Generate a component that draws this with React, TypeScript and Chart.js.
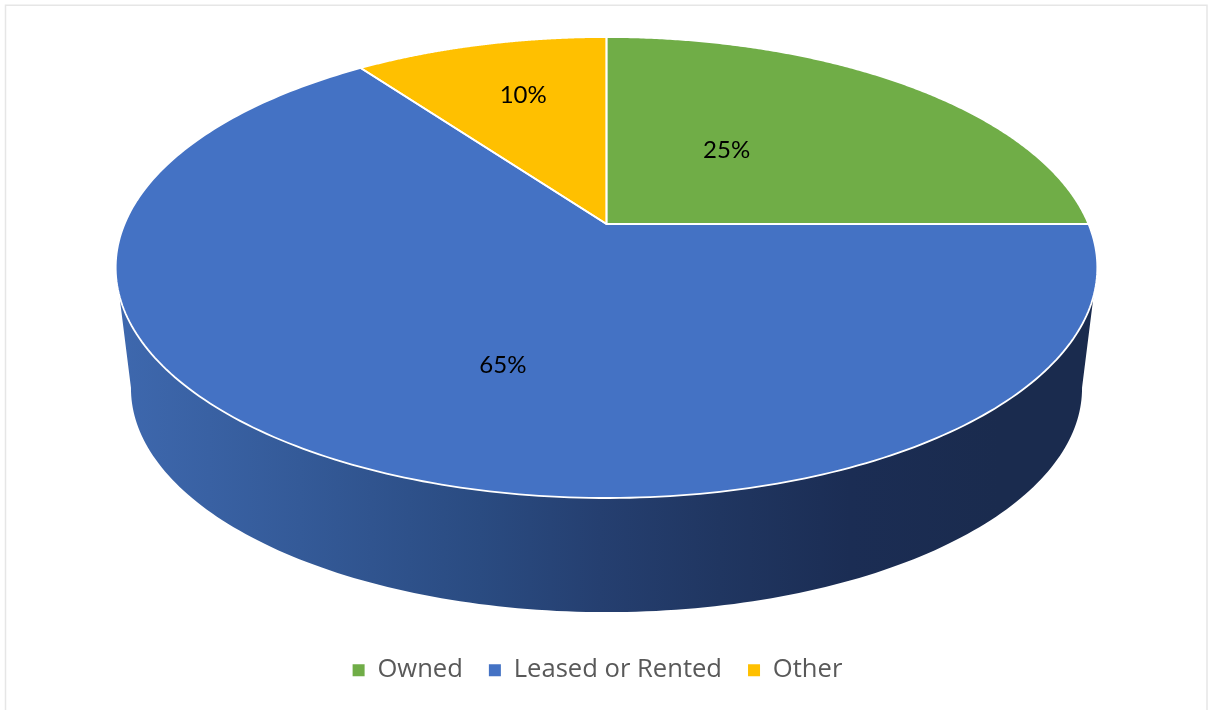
import React, { useEffect, useRef } from "react";
import { Chart, registerables } from "chart.js";

Chart.register(...registerables);

const categories = ["Owned", "Leased or Rented", "Other"];
const shares = [25, 65, 10];
const sliceColors = ["#70AD47", "#4472C4", "#FFC000"];
// where each percentage sits on the unit disc of the pie
const labelAnchors = [
  [0.266, -0.355],
  [-0.192, 0.566],
  [-0.194, -0.652],
];

// Perspective projection of the unit disc onto the page
const TOP = { cx: 606.5, cy: 224, a: 482, b: 222.3, k: -0.1887 };
const BOTTOM = { cx: 606.5, cy: 346, a: 467, b: 215.9, k: -0.1887 };
const project = (p: typeof TOP, ux: number, uy: number): [number, number] => {
  const d = 1 + p.k * uy;
  return [p.cx + (p.a * ux) / d, p.cy + (p.b * uy) / d];
};
const rim = (p: typeof TOP, from: number, to: number, n = 160) => {
  const pts: [number, number][] = [];
  for (let i = 0; i <= n; i++) {
    const t = from + ((to - from) * i) / n;
    pts.push(project(p, Math.cos(t), Math.sin(t)));
  }
  return pts;
};

const sideStops: [number, string][] = [
  [118, "#3E68AE"],
  [300, "#345A98"],
  [480, "#2A4B81"],
  [600, "#253F70"],
  [720, "#203661"],
  [850, "#1B2D54"],
  [1000, "#1A2B4E"],
  [1097, "#1A2B4E"],
];

const framePlugin = {
  id: "frame",
  beforeDraw(chart: any) {
    const { ctx } = chart;
    ctx.save();
    ctx.strokeStyle = "#E6E6E6";
    ctx.lineWidth = 1.5;
    ctx.strokeRect(5.5, 5.25, 1201.5, 730);
    ctx.restore();
  },
};

const pie3dPlugin = {
  id: "pie3d",
  beforeDatasetDraw(chart: any, args: any) {
    const { ctx } = chart;
    const meta = args.meta;
    const ds = chart.data.datasets[args.index];
    ctx.save();

    // side wall: only the front part of the rim can be seen
    const topLeft = Math.asin(0.305);
    const botLeft = Math.asin(0.187);
    const grad = ctx.createLinearGradient(118, 0, 1097, 0);
    sideStops.forEach(([x, c]) => grad.addColorStop((x - 118) / (1097 - 118), c));
    const upper = rim(TOP, topLeft, Math.PI - topLeft);
    const lower = rim(BOTTOM, Math.PI - botLeft, botLeft);
    ctx.beginPath();
    [...upper, ...lower].forEach(([x, y], i) => (i ? ctx.lineTo(x, y) : ctx.moveTo(x, y)));
    ctx.closePath();
    ctx.fillStyle = grad;
    ctx.fill();

    // top surface, from the angles the library computed
    meta.data.forEach((arc: any, i: number) => {
      const { startAngle, endAngle } = arc.getProps(["startAngle", "endAngle"], true);
      const pts = rim(TOP, startAngle, endAngle, 240);
      ctx.beginPath();
      ctx.moveTo(TOP.cx, TOP.cy);
      pts.forEach(([x, y]) => ctx.lineTo(x, y));
      ctx.closePath();
      ctx.fillStyle = ds.backgroundColor[i];
      ctx.fill();
    });
    meta.data.forEach((arc: any) => {
      const { startAngle, endAngle } = arc.getProps(["startAngle", "endAngle"], true);
      const pts = rim(TOP, startAngle, endAngle, 240);
      ctx.beginPath();
      ctx.moveTo(TOP.cx, TOP.cy);
      pts.forEach(([x, y]) => ctx.lineTo(x, y));
      ctx.closePath();
      ctx.strokeStyle = ds.borderColor;
      ctx.lineWidth = ds.borderWidth;
      ctx.lineJoin = "round";
      ctx.stroke();
    });

    // percentage labels
    ctx.fillStyle = "#000000";
    ctx.font = "24px Lato";
    ctx.textAlign = "center";
    ctx.textBaseline = "middle";
    ds.data.forEach((v: number, i: number) => {
      const [x, y] = project(TOP, labelAnchors[i][0], labelAnchors[i][1]);
      ctx.fillText(`${v}%`, x, y);
    });

    ctx.restore();
    return false;
  },
};

export default function App() {
  const ref = useRef<HTMLCanvasElement>(null);
  useEffect(() => {
    document.body.style.margin = "0";
    document.body.style.overflow = "hidden";
    const baseLabels = (Chart as any).overrides.pie.plugins.legend.labels.generateLabels;
    const chart = new Chart(ref.current!, {
      type: "pie",
      data: {
        labels: categories,
        datasets: [
          {
            data: shares,
            backgroundColor: sliceColors,
            borderColor: "#FFFFFF",
            borderWidth: 1.8,
          },
        ],
      },
      options: {
        responsive: false,
        animation: false,
        layout: { padding: { bottom: 17, right: 13 } },
        plugins: {
          tooltip: { enabled: false },
          title: { display: false },
          legend: {
            display: true,
            position: "bottom",
            labels: {
              boxWidth: 12,
              boxHeight: 12,
              padding: 26,
              color: "#595959",
              font: { family: "'Open Sans'", size: 25.6 },
              generateLabels: (c: any) =>
                baseLabels(c).map((item: any) => ({ ...item, lineWidth: 0 })),
            },
          },
        },
      },
      plugins: [framePlugin, pie3dPlugin],
    } as any);
    return () => chart.destroy();
  }, []);
  return (
    <canvas
      ref={ref}
      width={1208}
      height={710}
      style={{ display: "block", position: "absolute", left: 0, top: 0 }}
    />
  );
}
